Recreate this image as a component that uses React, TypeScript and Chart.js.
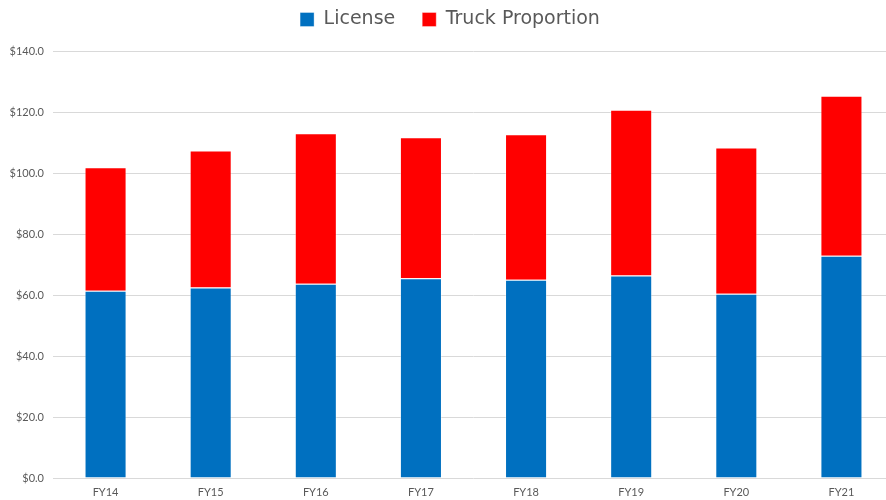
import React, { useEffect, useRef } from "react";
import { Chart, registerables } from "chart.js";

Chart.register(...registerables);

const categories = ["FY14", "FY15", "FY16", "FY17", "FY18", "FY19", "FY20", "FY21"];
const licenseValues = [61.4, 62.5, 63.7, 65.5, 65.0, 66.4, 60.4, 72.9];
const truckValues = [40.5, 44.9, 49.3, 46.2, 47.7, 54.3, 48.0, 52.4];
const yTickMax = 140;
const yTickStep = 20;

const legendTweak = {
  id: "legendTweak",
  beforeInit(chart: any) {
    const legend = chart.legend;
    if (!legend) return;
    const origFit = legend.fit;
    legend.fit = function (this: any) {
      origFit.call(this);
      this.height = 51;
    };
    const origDraw = legend.draw;
    legend.draw = function (this: any, ...args: any[]) {
      const ctx = this.ctx;
      ctx.save();
      ctx.translate(0, -17);
      origDraw.apply(this, args);
      ctx.restore();
    };
  },
};

export default function App() {
  const ref = useRef<HTMLCanvasElement | null>(null);

  useEffect(() => {
    if (!ref.current) return;
    const font = "'Lato', 'Noto Sans', sans-serif";
    const legendFont = "'DejaVu Sans', sans-serif";
    const chart = new Chart(ref.current, {
      type: "bar",
      data: {
        labels: categories,
        datasets: [
          {
            label: "License",
            data: licenseValues,
            backgroundColor: "#0070C0",
            borderColor: "rgba(255,255,255,0.35)",
            borderWidth: 1,
            barPercentage: 0.4,
            categoryPercentage: 1,
          },
          {
            label: "Truck Proportion",
            data: truckValues,
            backgroundColor: "#FF0000",
            borderColor: "rgba(255,255,255,0.35)",
            borderWidth: 1,
            barPercentage: 0.4,
            categoryPercentage: 1,
          },
        ],
      },
      options: {
        animation: false,
        responsive: false,
        maintainAspectRatio: false,
        layout: { padding: { left: 6, top: 0, right: 0, bottom: 0 } },
        plugins: {
          legend: {
            position: "top",
            labels: {
              font: { family: legendFont, size: 19 },
              color: "#595959",
              boxWidth: 14,
              boxHeight: 14,
              padding: 27,
            },
          },
          tooltip: { enabled: false },
        },
        scales: {
          x: {
            stacked: true,
            grid: { display: false, drawTicks: false },
            border: { display: false },
            ticks: {
              color: "#595959",
              font: { family: font, size: 11 },
              padding: 8,
            },
            afterFit: (scale: any) => {
              scale.height = 22;
            },
          },
          y: {
            stacked: true,
            min: 0,
            max: yTickMax,
            grid: { color: "#D9D9D9", drawTicks: false, lineWidth: 1 },
            border: { display: false },
            ticks: {
              stepSize: yTickStep,
              color: "#595959",
              font: { family: font, size: 11 },
              padding: 9,
              callback: (v: any) => "$" + Number(v).toFixed(1),
            },
            afterFit: (scale: any) => {
              scale.width = 47;
            },
          },
        },
      },
      plugins: [legendTweak],
    });
    return () => chart.destroy();
  }, []);

  return (
    <div
      style={{
        position: "fixed",
        left: 0,
        top: 0,
        width: 886,
        height: 500,
        overflow: "hidden",
        background: "#fff",
      }}
    >
      <canvas ref={ref} width={894} height={500} style={{ display: "block", width: 894, height: 500 }} />
    </div>
  );
}
